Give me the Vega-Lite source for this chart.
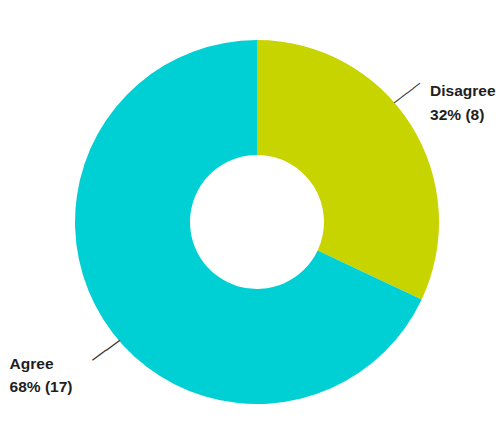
{
  "$schema": "https://vega.github.io/schema/vega-lite/v6.json",
  "width": 478,
  "height": 420,
  "autosize": "none",
  "padding": {"left": 18, "top": 12, "right": 0, "bottom": 0},
  "background": "white",
  "view": {"stroke": null},
  "data": {"values": [
    {"answer": "Disagree", "count": 8},
    {"answer": "Agree", "count": 17}
  ]},
  "transform": [
    {"joinaggregate": [{"op": "sum", "field": "count", "as": "total"}]},
    {"calculate": "datum.answer + '\\n' + round(datum.count / datum.total * 100) + '% (' + datum.count + ')'", "as": "label"}
  ],
  "encoding": {
    "theta": {"field": "count", "type": "quantitative", "stack": true},
    "order": {"field": "answer", "sort": "descending"}
  },
  "layer": [
    {
      "mark": {"type": "arc", "outerRadius": 182, "innerRadius": 67, "strokeWidth": 0},
      "encoding": {
        "color": {"field": "answer", "type": "nominal", "legend": null,
          "scale": {"domain": ["Disagree", "Agree"], "range": ["#c8d400", "#00d0d4"]}}
      }
    },
    {
      "mark": {"type": "text", "radius": 205, "align": "left", "baseline": "middle", "dy": -21,
        "font": "Liberation Sans", "fontWeight": "bold", "fontSize": 15.5, "lineBreak": "\n", "lineHeight": 23.4, "color": "#1e1e1e"},
      "encoding": {
        "text": {"condition": {"test": "datum.answer === 'Disagree'", "field": "label"}, "value": ""}
      }
    },
    {
      "mark": {"type": "text", "radius": 293, "align": "left", "baseline": "middle", "dy": -15,
        "font": "Liberation Sans", "fontWeight": "bold", "fontSize": 15.5, "lineBreak": "\n", "lineHeight": 23.4, "color": "#1e1e1e"},
      "encoding": {
        "text": {"condition": {"test": "datum.answer === 'Agree'", "field": "label"}, "value": ""}
      }
    },
    {
      "mark": {"type": "text", "radius": 198, "align": "center", "baseline": "middle", "dx": 0.2, "dy": -27.9, "angle": -37.2,
        "font": "DejaVu Sans", "fontSize": 13.4, "color": "#333333"},
      "encoding": {
        "text": {"condition": {"test": "datum.answer === 'Disagree'", "value": "────"}, "value": ""}
      }
    },
    {
      "mark": {"type": "text", "radius": 199.3, "align": "center", "baseline": "middle", "dx": 1.5, "dy": 28.4, "angle": -35.8,
        "font": "DejaVu Sans", "fontSize": 14, "color": "#333333"},
      "encoding": {
        "text": {"condition": {"test": "datum.answer === 'Agree'", "value": "────"}, "value": ""}
      }
    }
  ]
}
